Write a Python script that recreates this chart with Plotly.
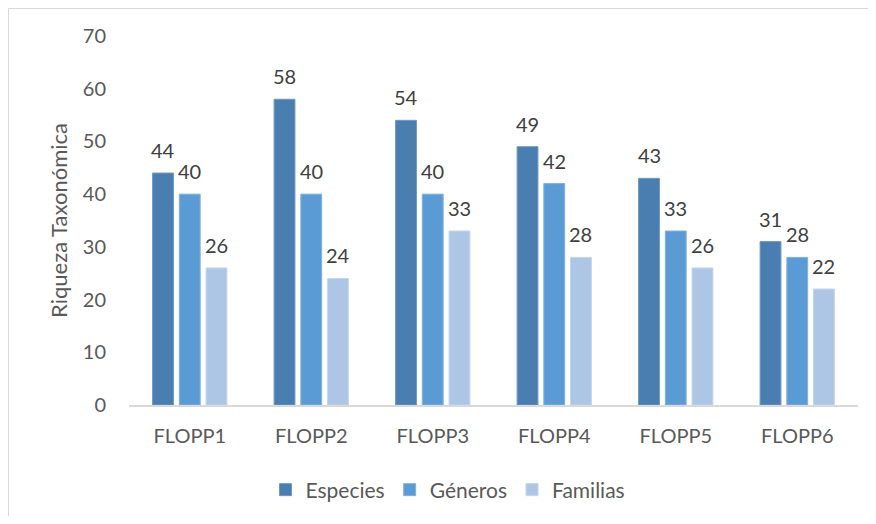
import plotly.graph_objects as go

categories = ["FLOPP1", "FLOPP2", "FLOPP3", "FLOPP4", "FLOPP5", "FLOPP6"]
especies = [44, 58, 54, 49, 43, 31]
generos = [40, 40, 40, 42, 33, 28]
familias = [26, 24, 33, 28, 26, 22]
series_names = ["Especies", "Géneros", "Familias"]
y_ticks = [0, 10, 20, 30, 40, 50, 60, 70]

colors = ["#4A7EB0", "#5B9BD5", "#ADC6E6"]
edge = ["#6E97C2", "#7FB0DE", "#C3D5EE"]
font_family = "Lato, 'Open Sans', sans-serif"

W, H = 860, 508
ML, MR, MT, MB = 121, 10, 28, 111
BARGAP = 0.34
plot_w = W - ML - MR
plot_h = H - MT - MB
slot_px = plot_w / len(categories) * (1 - BARGAP) / 3

fig = go.Figure()
annotations = []
for i, (name, vals, c, e) in enumerate(zip(series_names, [especies, generos, familias], colors, edge)):
    fig.add_trace(go.Bar(
        x=categories, y=vals, name=name,
        marker=dict(color=c, line=dict(color=e, width=1)),
    ))
    for cat, v in zip(categories, vals):
        annotations.append(dict(
            x=cat, y=v, xref="x", yref="y", text=str(v), showarrow=False,
            yanchor="bottom", xanchor="center", yshift=9, xshift=(i - 1) * slot_px,
            font=dict(size=20, color="#404040", family=font_family),
        ))

left_x = (0.5 - ML) / plot_w
top_y = 1 + (MT - 0.5) / plot_h
fig.update_layout(
    width=W, height=H,
    margin=dict(l=ML, r=MR, t=MT, b=MB, autoexpand=False),
    paper_bgcolor="white", plot_bgcolor="white",
    barmode="group", bargap=BARGAP, bargroupgap=0.22,
    font=dict(family=font_family, color="#595959"),
    legend=dict(orientation="h", x=(448 - 8 - ML) / plot_w, xanchor="center", xref="paper",
                y=-(490 - 8 - (MT + plot_h)) / plot_h, yanchor="middle",
                font=dict(size=21, color="#595959"),
                traceorder="normal", itemwidth=30),
    showlegend=True,
    annotations=annotations,
    shapes=[
        dict(type="line", xref="paper", yref="paper", x0=left_x, x1=left_x,
             y0=-MB / plot_h, y1=top_y, line=dict(color="#D9D9D9", width=1)),
        dict(type="line", xref="paper", yref="paper", x0=left_x, x1=1 + MR / plot_w,
             y0=top_y, y1=top_y, line=dict(color="#D9D9D9", width=1)),
    ],
)
fig.update_xaxes(showline=True, linecolor="#D9D9D9", linewidth=2, showgrid=False,
                 ticks="", tickfont=dict(size=20, color="#595959"), ticklabelstandoff=12)
fig.update_yaxes(range=[0, 70], tickvals=y_ticks, showgrid=False, zeroline=False,
                 showline=False, ticks="", tickfont=dict(size=20, color="#595959"),
                 ticklabelstandoff=22,
                 title=dict(text="Riqueza Taxonómica", font=dict(size=22, color="#595959"), standoff=9))

fig.write_html("out.html")
